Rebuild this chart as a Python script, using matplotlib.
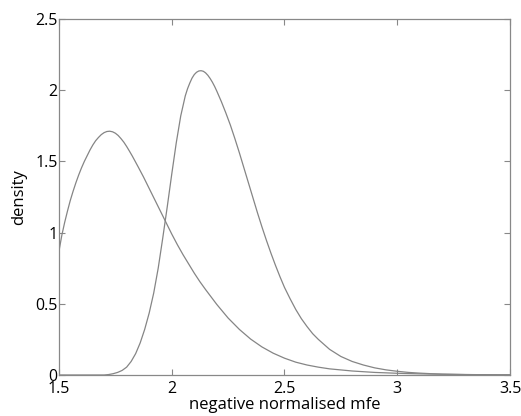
import matplotlib
matplotlib.use('Agg')
import matplotlib.pyplot as plt

# curve 1 (left, broad)
x1 = [1.50, 1.5125, 1.525, 1.5375, 1.55, 1.5625, 1.575, 1.5875, 1.60, 1.6125, 1.625,
      1.6375, 1.65, 1.6625, 1.675, 1.6875, 1.70, 1.7125, 1.725, 1.7375, 1.75, 1.7625,
      1.775, 1.7875, 1.80, 1.8125, 1.825, 1.85, 1.875, 1.90, 1.925, 1.95, 1.975, 2.00,
      2.025, 2.05, 2.075, 2.10, 2.125, 2.15, 2.20, 2.25, 2.30, 2.35, 2.40, 2.45, 2.50,
      2.55, 2.60, 2.65, 2.70, 2.80, 2.90, 3.00, 3.10, 3.20, 3.30, 3.40, 3.50]
y1 = [0.87, 0.98, 1.07, 1.15, 1.225, 1.29, 1.35, 1.405, 1.455, 1.50, 1.54,
      1.58, 1.615, 1.645, 1.668, 1.688, 1.702, 1.71, 1.712, 1.708, 1.698, 1.682,
      1.66, 1.635, 1.605, 1.572, 1.538, 1.465, 1.39, 1.31, 1.23, 1.15, 1.07, 0.99,
      0.915, 0.845, 0.78, 0.715, 0.655, 0.60, 0.495, 0.40, 0.32, 0.252, 0.197, 0.153, 0.118,
      0.09, 0.07, 0.055, 0.043, 0.028, 0.018, 0.012, 0.008, 0.005, 0.003, 0.002, 0.001]

# curve 2 (right, sharp)
x2 = [1.50, 1.60, 1.70, 1.72, 1.74, 1.76, 1.78, 1.80, 1.82, 1.84, 1.86, 1.88,
      1.90, 1.92, 1.94, 1.96, 1.98, 2.00, 2.02, 2.04, 2.06, 2.07, 2.08, 2.09,
      2.10, 2.11, 2.12, 2.13, 2.14, 2.15, 2.16, 2.17, 2.18, 2.19, 2.20, 2.22,
      2.24, 2.26, 2.28, 2.30, 2.32, 2.34, 2.36, 2.38, 2.40, 2.42, 2.44, 2.46,
      2.48, 2.50, 2.525, 2.55, 2.575, 2.60, 2.625, 2.65, 2.70, 2.75, 2.80, 2.85,
      2.90, 2.95, 3.00, 3.05, 3.10, 3.15, 3.20, 3.30, 3.40, 3.50]
y2 = [0.0, 0.0, 0.0, 0.003, 0.009, 0.018, 0.032, 0.055, 0.095, 0.15, 0.225, 0.32,
      0.435, 0.575, 0.75, 0.96, 1.18, 1.41, 1.63, 1.82, 1.96, 2.01, 2.05, 2.085,
      2.11, 2.126, 2.135, 2.137, 2.133, 2.122, 2.105, 2.083, 2.057, 2.027, 1.993, 1.92,
      1.84, 1.755, 1.66, 1.56, 1.455, 1.35, 1.245, 1.14, 1.04, 0.945, 0.855, 0.77,
      0.69, 0.615, 0.535, 0.46, 0.395, 0.34, 0.29, 0.25, 0.18, 0.13, 0.095, 0.07,
      0.05, 0.036, 0.026, 0.018, 0.013, 0.009, 0.006, 0.003, 0.0015, 0.0007]

xticks = [1.5, 2, 2.5, 3, 3.5]
yticks = [0, 0.5, 1, 1.5, 2, 2.5]

plt.rcParams['font.family'] = ['Open Sans', 'DejaVu Sans']

fig = plt.figure(figsize=(5.21, 4.16), dpi=100)
ax = fig.add_axes([0.1132, 0.0986, 0.8657, 0.8557])

ax.plot(x1, y1, color='#858585', linewidth=0.9)
ax.plot(x2, y2, color='#858585', linewidth=0.9)

ax.set_xlim(1.5, 3.5)
ax.set_ylim(0, 2.5)
ax.set_xticks(xticks)
ax.set_xticklabels(['1.5', '2', '2.5', '3', '3.5'])
ax.set_yticks(yticks)
ax.set_yticklabels(['0', '0.5', '1', '1.5', '2', '2.5'])
ax.tick_params(direction='in', top=True, right=True, length=4, width=0.8,
               color='#888888', labelsize=11.5, pad=1)
ax.tick_params(axis='x', pad=4)
for s in ax.spines.values():
    s.set_color('#888888')
    s.set_linewidth(0.9)

ax.set_xlabel('negative normalised mfe', fontsize=12, labelpad=0)
ax.set_ylabel('density', fontsize=12, labelpad=6)

fig.savefig('out.png', dpi=100)
